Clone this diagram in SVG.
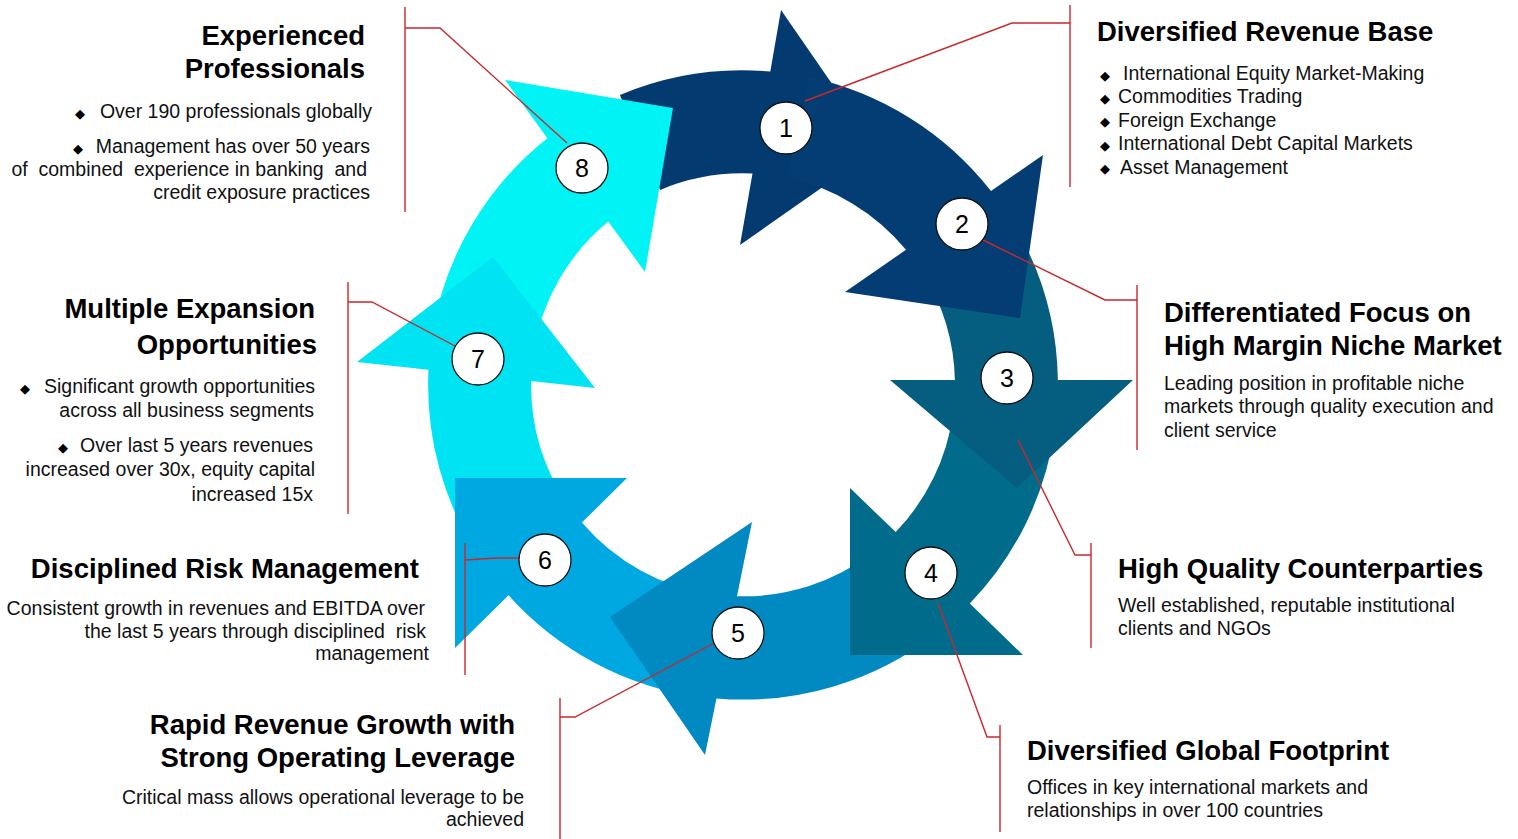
<svg xmlns="http://www.w3.org/2000/svg" width="1518" height="839" viewBox="0 0 1518 839">
<style>
.t{font-family:"Liberation Sans",Arial,sans-serif;font-weight:bold;font-size:27.5px;fill:#000}
.b{font-family:"Liberation Sans",Arial,sans-serif;font-size:19.5px;fill:#111}
.e{text-anchor:end}
.d{font-family:"DejaVu Sans",sans-serif;font-size:13px;fill:#000;text-anchor:middle}
.c{fill:#fff;stroke:#111;stroke-width:1.3}
.n{font-family:"Liberation Sans",Arial,sans-serif;font-size:25px;fill:#000;text-anchor:middle}
.l{fill:none;stroke:#c8282d;stroke-width:1.4}
</style>
<rect width="1518" height="839" fill="#fff"/>
<g id="ring">
<path id="arrow-1" fill="#033a70" d="M 619.9,95.0 A 315,315 0 0 1 770.3,71.6 L 781,10 L 877,149 L 740,245 L 752.5,173.6 A 212,212 0 0 0 660.2,189.9 Z"/>
<path id="arrow-8" fill="#00f4f6" d="M 431.9,335.7 A 315,315 0 0 1 547.4,138.2 L 505,80 L 673,108 L 645,272 L 608.2,221.5 A 212,212 0 0 0 533.6,351.8 Z"/>
<path id="arrow-7" fill="#00e3f3" d="M 478.8,556.5 A 315,315 0 0 1 428.5,369.8 L 357,362 L 493,257 L 595,388 L 531.2,381.0 A 212,212 0 0 0 565.2,500.5 Z"/>
<path id="arrow-6" fill="#00a8e2" d="M 699.2,696.9 A 315,315 0 0 1 508.5,595.2 L 455,648 L 455,478 L 627,478 L 581.9,522.6 A 212,212 0 0 0 713.5,594.9 Z"/>
<path id="arrow-5" fill="#0189c2" d="M 936.9,633.2 A 315,315 0 0 1 716.4,698.4 L 705,755 L 610,617 L 752,522 L 737.0,596.2 A 212,212 0 0 0 873.5,552.1 Z"/>
<path id="arrow-4" fill="#016b8b" d="M 1054.9,428.8 A 315,315 0 0 1 969.8,603.6 L 1023,655 L 850,655 L 850,488 L 895.7,532.1 A 212,212 0 0 0 952.9,414.5 Z"/>
<path id="arrow-3" fill="#055e80" d="M 1010.1,218.1 A 315,315 0 0 1 1057.9,380 L 1133,380 L 1017,488 L 890,380 L 954.9,380 A 212,212 0 0 0 922.8,272.7 Z"/>
<path id="arrow-2" fill="#033d73" d="M 808.5,76.9 A 315,315 0 0 1 991.0,191.0 L 1043,155 L 1020,318 L 845,292 L 906.0,249.8 A 212,212 0 0 0 787.1,177.6 Z"/>
</g>
<g id="connectors">
<path class="l" d="M 805,101 L 1012,23 L 1070,23 M 1070,5 V 187"/>
<path class="l" d="M 983,240 L 1105,300 L 1137,300 M 1137,285 V 450"/>
<path class="l" d="M 1018,440 L 1075,555 L 1091,555 M 1091,543 V 648"/>
<path class="l" d="M 938,603 L 987,737 L 1000,737 M 1000,725 V 832"/>
<path class="l" d="M 716,642 L 575,717 L 560,717 M 560,698 V 839"/>
<path class="l" d="M 520,558 L 497,558 L 465,560 M 465,543 V 675"/>
<path class="l" d="M 455,346 L 372,302 L 348,302 M 348,282 V 514"/>
<path class="l" d="M 567,143 L 440,28 L 405,28 M 405,7 V 212"/>
</g>
<g id="node-1">
<circle class="c" cx="786" cy="128" r="26"/>
<text class="n" x="786" y="137">1</text>
<text class="t" x="1097" y="41">Diversified Revenue Base</text>
<text class="d" x="1105" y="80">◆</text>
<text class="d" x="1105" y="103">◆</text>
<text class="d" x="1105" y="126">◆</text>
<text class="d" x="1105" y="150">◆</text>
<text class="d" x="1105" y="173">◆</text>
<text class="b" x="1123" y="80">International Equity Market-Making</text>
<text class="b" x="1118" y="103">Commodities Trading</text>
<text class="b" x="1118" y="127">Foreign Exchange</text>
<text class="b" x="1118" y="150">International Debt Capital Markets</text>
<text class="b" x="1120" y="174">Asset Management</text>
</g>
<g id="node-2">
<circle class="c" cx="962" cy="224" r="26"/>
<text class="n" x="962" y="233">2</text>
<text class="t" x="1164" y="322">Differentiated Focus on</text>
<text class="t" x="1164" y="355">High Margin Niche Market</text>
<text class="b" x="1164" y="390">Leading position in profitable niche</text>
<text class="b" x="1164" y="413">markets through quality execution and</text>
<text class="b" x="1164" y="437">client service</text>
</g>
<g id="node-3">
<circle class="c" cx="1007" cy="378" r="26"/>
<text class="n" x="1007" y="387">3</text>
<text class="t" x="1118" y="578">High Quality Counterparties</text>
<text class="b" x="1118" y="612">Well established, reputable institutional</text>
<text class="b" x="1118" y="635">clients and NGOs</text>
</g>
<g id="node-4">
<circle class="c" cx="931" cy="573" r="26"/>
<text class="n" x="931" y="582">4</text>
<text class="t" x="1027" y="760">Diversified Global Footprint</text>
<text class="b" x="1027" y="794">Offices in key international markets and</text>
<text class="b" x="1027" y="817">relationships in over 100 countries</text>
</g>
<g id="node-5">
<circle class="c" cx="738" cy="633" r="26"/>
<text class="n" x="738" y="642">5</text>
<text class="t e" x="515" y="734">Rapid Revenue Growth with</text>
<text class="t e" x="515" y="767">Strong Operating Leverage</text>
<text class="b e" x="524" y="804">Critical mass allows operational leverage to be</text>
<text class="b e" x="524" y="826">achieved</text>
</g>
<g id="node-6">
<circle class="c" cx="545" cy="560" r="26"/>
<text class="n" x="545" y="569">6</text>
<text class="t e" x="419" y="578">Disciplined Risk Management</text>
<text class="b e" x="425" y="615">Consistent growth in revenues and EBITDA over</text>
<text class="b e" x="426" y="638" xml:space="preserve">the last 5 years through disciplined  risk</text>
<text class="b e" x="429" y="660">management</text>
</g>
<g id="node-7">
<circle class="c" cx="478" cy="359" r="26"/>
<text class="n" x="478" y="368">7</text>
<text class="t e" x="315" y="318">Multiple Expansion</text>
<text class="t e" x="317" y="354">Opportunities</text>
<text class="d" x="25" y="393">◆</text>
<text class="b e" x="315" y="393">Significant growth opportunities</text>
<text class="b e" x="314" y="417">across all business segments</text>
<text class="d" x="63" y="452">◆</text>
<text class="b e" x="313" y="452">Over last 5 years revenues</text>
<text class="b e" x="315" y="476">increased over 30x, equity capital</text>
<text class="b e" x="313" y="501">increased 15x</text>
</g>
<g id="node-8">
<ellipse class="c" cx="582" cy="168" rx="26" ry="25"/>
<text class="n" x="582" y="177">8</text>
<text class="t e" x="365" y="45">Experienced</text>
<text class="t e" x="365" y="78">Professionals</text>
<text class="d" x="80" y="118">◆</text>
<text class="b e" x="372" y="118">Over 190 professionals globally</text>
<text class="d" x="78" y="153">◆</text>
<text class="b e" x="370" y="153">Management has over 50 years</text>
<text class="b e" x="367" y="176" xml:space="preserve">of  combined  experience in banking  and</text>
<text class="b e" x="370" y="199">credit exposure practices</text>
</g>
</svg>
